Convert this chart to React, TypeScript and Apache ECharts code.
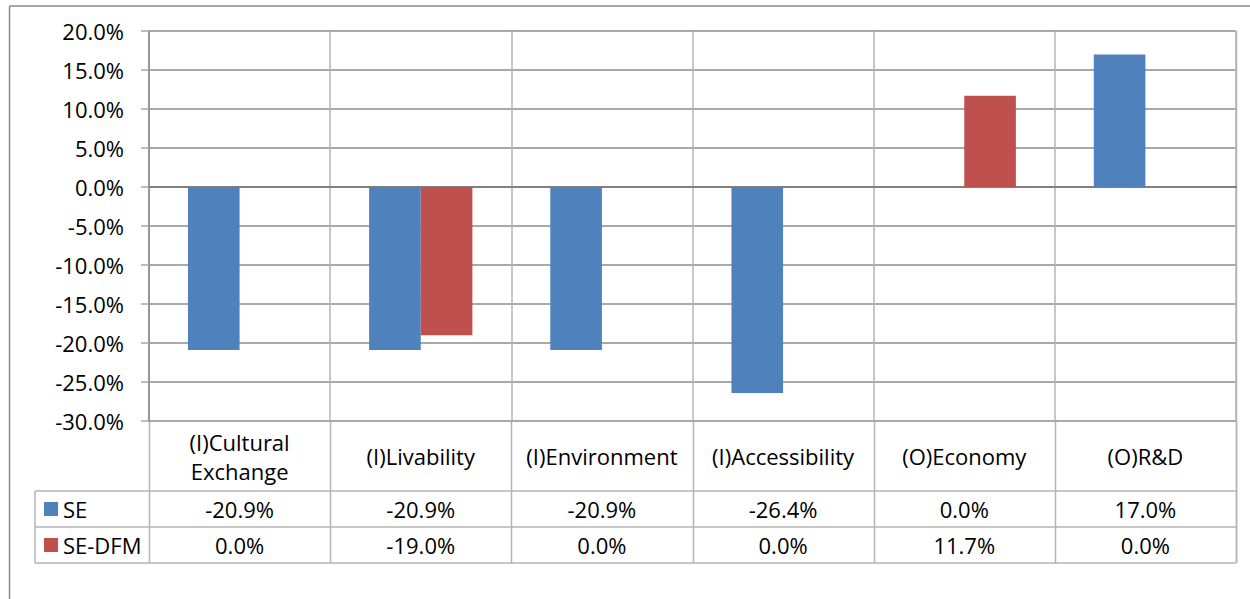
import React, { useEffect, useRef } from "react";
import * as echarts from "echarts";

const categories = [
  "(I)Cultural\nExchange",
  "(I)Livability",
  "(I)Environment",
  "(I)Accessibility",
  "(O)Economy",
  "(O)R&D",
];
const seriesNames = ["SE", "SE-DFM"];
const seValues = [-20.9, -20.9, -20.9, -26.4, 0.0, 17.0];
const seDfmValues = [0.0, -19.0, 0.0, 0.0, 11.7, 0.0];
const yMin = -30;
const yMax = 20;
const yStep = 5;

const W = 1250;
const H = 599;
const GRID_LEFT = 149;
const GRID_TOP = 31;
const GRID_RIGHT = 1236;
const GRID_BOTTOM = 421;
const ROW1 = 491;
const ROW2 = 527;
const ROW3 = 563;
const TABLE_LEFT = 35;
const FONT = "'Open Sans', Lato, sans-serif";
const FS = 22;
const BLUE = "#4F81BD";
const RED = "#C0504D";
const GRID_COLOR = "#8C8C8C";
const VLINE_COLOR = "#B4B4B4";

const pct = (v: number) => v.toFixed(1) + "%";

export default function App() {
  const ref = useRef<HTMLDivElement>(null);
  useEffect(() => {
    document.body.style.margin = "0";
    if (!ref.current) return;
    const chart = echarts.init(ref.current, null, { renderer: "svg" });
    const n = categories.length;
    const catW = (GRID_RIGHT - GRID_LEFT) / n;
    const lines: any[] = [];
    const ln = (x1: number, y1: number, x2: number, y2: number, color: string, w = 1) =>
      lines.push({
        type: "line",
        shape: { x1, y1, x2, y2 },
        style: { stroke: color, lineWidth: w },
        silent: true,
      });
    // outer chart border
    ln(9.5, 6, 9.5, H, "#8A8A8A", 1.5);
    ln(9.5, 6, W, 6, "#8A8A8A", 1.5);
    // table verticals
    for (let i = 0; i <= n; i++) {
      const x = Math.round(GRID_LEFT + i * catW) + 0.5;
      ln(x, GRID_BOTTOM, x, ROW3, VLINE_COLOR, 1.5);
    }
    ln(TABLE_LEFT, ROW1, TABLE_LEFT, ROW3, VLINE_COLOR, 1.5);
    ln(TABLE_LEFT, ROW1, GRID_RIGHT, ROW1, VLINE_COLOR, 1.5);
    ln(TABLE_LEFT, ROW2, GRID_RIGHT, ROW2, VLINE_COLOR, 1.5);
    ln(TABLE_LEFT, ROW3, GRID_RIGHT, ROW3, VLINE_COLOR, 1.5);
    ln(GRID_RIGHT + 0.5, GRID_TOP, GRID_RIGHT + 0.5, ROW3, VLINE_COLOR, 1.5);

    const valueAxis = (data: number[], margin: number) => ({
      type: "category",
      data: data.map(pct),
      position: "bottom",
      axisLine: { show: false, onZero: false },
      axisTick: { show: false },
      splitLine: { show: false },
      axisLabel: {
        interval: 0,
        margin,
        verticalAlign: "middle",
        color: "#000",
        fontFamily: FONT,
        fontSize: FS,
      },
    });

    chart.setOption({
      animation: false,
      backgroundColor: "#fff",
      grid: {
        left: GRID_LEFT,
        top: GRID_TOP,
        width: GRID_RIGHT - GRID_LEFT,
        height: GRID_BOTTOM - GRID_TOP,
        containLabel: false,
      },
      legend: {
        orient: "vertical",
        left: 44,
        top: 498,
        padding: 0,
        itemWidth: 14,
        itemHeight: 14,
        itemGap: 14,
        icon: "rect",
        data: seriesNames,
        textStyle: {
          fontFamily: FONT,
          fontSize: FS,
          lineHeight: 22,
          color: "#000",
        },
        selectedMode: false,
      },
      xAxis: [
        {
          type: "category",
          data: categories,
          position: "bottom",
          axisLine: { show: true, onZero: true, lineStyle: { color: "#808080", width: 2 } },
          axisTick: { show: false },
          axisLabel: { show: false },
          splitLine: { show: true, lineStyle: { color: VLINE_COLOR, width: 1.5 } },
        },
        {
          type: "category",
          data: categories,
          position: "bottom",
          axisLine: { show: false, onZero: false },
          axisTick: { show: false },
          splitLine: { show: false },
          axisLabel: {
            interval: 0,
            margin: 35,
            verticalAlign: "middle",
            lineHeight: 29,
            color: "#000",
            fontFamily: FONT,
            fontSize: FS,
          },
        },
        valueAxis(seValues, ROW1 + (ROW2 - ROW1) / 2 - GRID_BOTTOM),
        valueAxis(seDfmValues, ROW2 + (ROW3 - ROW2) / 2 - GRID_BOTTOM),
      ],
      yAxis: {
        type: "value",
        min: yMin,
        max: yMax,
        interval: yStep,
        axisLine: { show: true, lineStyle: { color: "#868686", width: 1.5 } },
        axisTick: { show: true, inside: false, length: 8, lineStyle: { color: "#A6A6A6", width: 1.5 } },
        axisLabel: {
          margin: 25,
          formatter: (v: number) => pct(v),
          color: "#000",
          fontFamily: FONT,
          fontSize: FS,
        },
        splitLine: { show: true, lineStyle: { color: GRID_COLOR, width: 1.5 } },
      },
      series: [
        {
          name: seriesNames[0],
          type: "bar",
          xAxisIndex: 0,
          data: seValues,
          itemStyle: { color: BLUE },
          barGap: "0%",
          barCategoryGap: "43%",
        },
        {
          name: seriesNames[1],
          type: "bar",
          xAxisIndex: 0,
          data: seDfmValues,
          itemStyle: { color: RED },
          barGap: "0%",
          barCategoryGap: "43%",
        },
      ],
      graphic: lines,
    });
    return () => chart.dispose();
  }, []);
  return (
    <div
      ref={ref}
      style={{ position: "fixed", left: 0, top: 0, width: W, height: H }}
    />
  );
}
